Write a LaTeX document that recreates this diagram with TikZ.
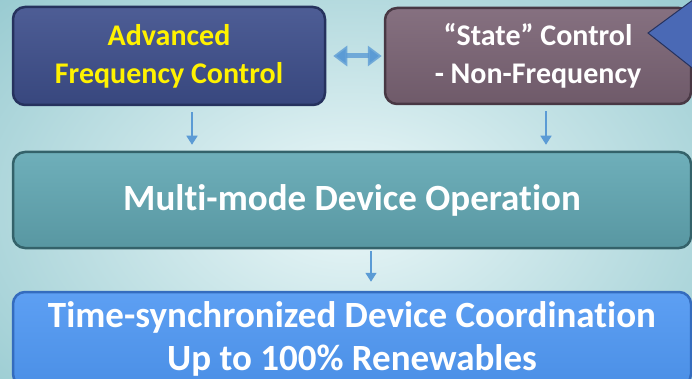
\documentclass[tikz,border=0pt]{standalone}
\usepackage{fontspec}
\setmainfont[Ligatures=NoCommon]{Carlito}
\usepackage{tikz}
\usetikzlibrary{arrows.meta}
\definecolor{fundoin}{RGB}{236, 248, 249}
\definecolor{fundoout}{RGB}{140, 196, 203}
\definecolor{freq}{RGB}{62, 79, 140}
\definecolor{freqborda}{RGB}{38, 50, 94}
\definecolor{state}{RGB}{123, 100, 117}
\definecolor{stateborda}{RGB}{72, 56, 68}
\definecolor{modo}{RGB}{98, 168, 180}
\definecolor{modoborda}{RGB}{52, 98, 106}
\definecolor{coord}{RGB}{79, 151, 242}
\definecolor{coordborda}{RGB}{52, 108, 190}
\definecolor{seta}{RGB}{91, 155, 213}
\definecolor{canto}{RGB}{74, 105, 181}

\begin{document}
\begin{tikzpicture}[x=1pt, y=-1pt,
	caixa/.style={rectangle, rounded corners=12pt, line width=2.5pt, % caixas com borda escura
		align=center, inner sep=0pt},
	setabaixo/.style={draw=seta, line width=1.6pt,
		-{Triangle[width=11pt, length=9pt]}},
	% seta dupla entre os controles
	setadupla/.style={draw=seta, line width=5pt, draw opacity=.8,
		{Triangle[width=20pt, length=14pt]}-{Triangle[width=20pt, length=14pt]}},
	]
\useasboundingbox (0,0) rectangle (692,379);
\shade[inner color=fundoin, outer color=fundoout] (-200,-150) rectangle (900,560);

\node[caixa, top color=freq!92!white, bottom color=freq!90!black, draw=freqborda, text=yellow,
	minimum width=312pt, minimum height=98pt,
	font=\bfseries\fontsize{30}{38}\selectfont] (avancado) at (169,56)
	{Advanced\\Frequency Control};
\node[caixa, top color=state!92!white, bottom color=state!90!black, draw=stateborda, text=white,
	minimum width=306pt, minimum height=96pt,
	font=\bfseries\fontsize{30}{38}\selectfont] (estado) at (538,56)
	{“State” Control\\- Non-Frequency};
\node[caixa, top color=modo!92!white, bottom color=modo!90!black, draw=modoborda, text=white,
	minimum width=678pt, minimum height=96pt,
	font=\bfseries\fontsize{37}{44}\selectfont] (multimodo) at (352,200)
	{Multi-mode Device Operation};
\node[caixa, top color=coord!92!white, bottom color=coord!95!black, draw=coordborda, text=white,
	minimum width=678pt, minimum height=94pt,
	font=\bfseries\fontsize{37}{43}\selectfont] (sincrono) at (352,339)
	{Time-synchronized Device Coordination\\Up to 100\% Renewables};

% canto azul (cortado)
\filldraw[fill=canto, draw=freqborda, line width=1pt] (648,33) -- (720,-20) -- (720,90) -- cycle;

\draw[setadupla, shorten <=7pt, shorten >=2pt] (avancado.east) -- (estado.west);
\draw[setabaixo, shorten <=6pt, shorten >=6pt]
	([xshift=23pt]avancado.south) -- ([xshift=23pt]avancado.south |- multimodo.north);
\draw[setabaixo, shorten <=6pt, shorten >=6pt]
	([xshift=8pt]estado.south) -- ([xshift=8pt]estado.south |- multimodo.north);
\draw[setabaixo, shorten <=2pt, shorten >=9pt]
	([xshift=19pt]multimodo.south) -- ([xshift=19pt]multimodo.south |- sincrono.north);
\end{tikzpicture}
\end{document}
